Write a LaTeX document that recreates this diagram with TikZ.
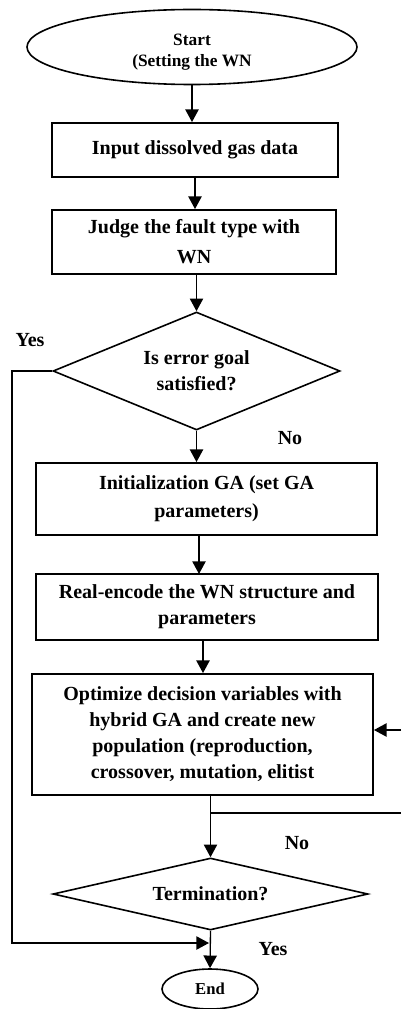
\documentclass[tikz,border=0pt]{standalone}
\usepackage{fontspec}
\setmainfont{Liberation Serif}
\usetikzlibrary{shapes.geometric,arrows.meta}
\begin{document}
\begin{tikzpicture}[x=0.75pt,y=-0.75pt,
  every node/.style={font=\bfseries\fontsize{15}{19.5}\selectfont, align=center},
  stepbox/.style={draw, line width=1.4pt, rectangle, inner sep=0pt},
  term/.style={draw, line width=1.2pt, ellipse, inner sep=0pt},
  decide/.style={draw, line width=1.2pt, diamond, inner sep=0pt},
  arr/.style={line width=1pt, -{Triangle[length=9.5pt,width=10pt]}},
  conn/.style={line width=1pt},
  lbl/.style={inner sep=0pt}]
\useasboundingbox (0,0) rectangle (401,1009);

% process nodes
\node[term, minimum width=247.5pt, minimum height=56.25pt,
      font=\bfseries\fontsize{13}{15.5}\selectfont] (start) at (192,47) {\rule{0pt}{16pt}Start\\(Setting the WN};
\node[stepbox, minimum width=214.5pt, minimum height=40.5pt] (input) at (195,150) {Input dissolved gas data};
\node[stepbox, minimum width=213pt, minimum height=48pt,
      font=\bfseries\fontsize{15}{22.5}\selectfont] (judge) at (194,242) {Judge the fault type with\\WN};
\node[decide, shape aspect=2.43, minimum width=215.25pt, minimum height=88.5pt] (goal) at (196.5,371) {Is error goal\\satisfied?};
\node[stepbox, minimum width=255.75pt, minimum height=54pt,
      font=\bfseries\fontsize{15}{21}\selectfont] (init) at (206.5,499) {Initialization GA (set GA\\parameters)};
\node[stepbox, minimum width=256.5pt, minimum height=49.5pt] (encode) at (207,607) {Real-encode the WN structure and\\parameters};
\node[stepbox, minimum width=255.75pt, minimum height=90.75pt] (optim) at (202.5,734.5)
  {Optimize decision variables with\\hybrid GA and create new\\population (reproduction,\\crossover, mutation, elitist};
\node[decide, shape aspect=4.37, minimum width=236.25pt, minimum height=54pt] (term) at (210.5,894) {Termination?};
\node[term, minimum width=72pt, minimum height=30pt,
      font=\bfseries\fontsize{12.5}{15}\selectfont] (end) at (210,989) {End};

% branch labels
\node[lbl] (yes1) at (30,340) {Yes};
\node[lbl] (no1) at (290,438) {No};
\node[lbl] (no2) at (297,843) {No};
\node[lbl] (yes2) at (273,949) {Yes};

% auxiliary points
\coordinate (yesleft) at (12,0);
\coordinate (yesjoin) at (209,943);
\coordinate (loopout) at (401,813);
\coordinate (loopin) at (401,730);

% main flow
\draw[arr] (start.south) -- (start.south |- input.north);
\draw[arr] (input.south) -- (input.south |- judge.north);
\draw[arr] (judge.south -| goal.north) -- (goal.north);
\draw[arr] (goal.south) -- (goal.south |- init.north);
\draw[arr] (199,535) -- (199,574);
\draw[arr] (encode.south -| 203,0) -- (optim.north -| 203,0);
\draw[arr] (optim.south -| term.north) -- (term.north);
\draw[arr] (term.south) -- (end.north);

% loops
\draw[arr] (goal.west) -- (goal.west -| yesleft) -- (yesleft |- yesjoin) -- (yesjoin);
\draw[conn] (term.north |- loopout) -- (loopout);
\draw[arr] (loopin) -- (optim.east |- loopin);
\end{tikzpicture}
\end{document}
